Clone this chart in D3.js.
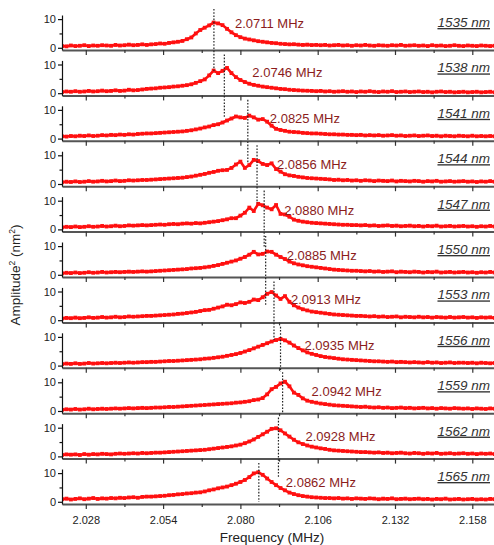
<!DOCTYPE html>
<html>
<head>
<meta charset="utf-8">
<script src="https://cdn.jsdelivr.net/npm/d3@7"></script>
<style>
  body { margin: 0; background: #fff; }
  svg { display: block; font-family: "Liberation Sans", Arial, sans-serif; }
</style>
</head>
<body>
<svg id="chart" width="494" height="545"></svg>
<script>
// Probe wavelengths (nm) and the fitted mechanical resonance for each
const wavelengths = [1535, 1538, 1541, 1544, 1547, 1550, 1553, 1556, 1559, 1562, 1565];
const peakFreqs = [2.0711, 2.0746, 2.0825, 2.0856, 2.0880, 2.0885, 2.0913, 2.0935, 2.0942, 2.0928, 2.0862];

// Frequency sweep: samples start at 2.020 MHz, one every 1.5 kHz
const sweepStart = 2.020;
const sweepStep = 0.0015;

// Squared amplitude (nm^2) recorded at each sweep point
const amp1535 = [0.6,0.5,0.8,0.6,0.7,0.9,0.6,0.8,0.7,0.9,0.8,0.7,1.0,0.8,0.9,1.1,0.9,1.0,1.2,1.0,
  1.2,1.3,1.5,1.4,1.7,1.9,2.1,2.4,3.0,3.6, 5.0,6.2,7.0,7.8,8.8,8.5,7.9,6.6,5.4,4.4,
  3.7,3.2,2.9,2.6,2.3,2.1,1.9,1.7,1.6,1.4, 1.3,1.2,1.25,1.1,1.0,1.1,0.95,1.0,0.9,1.0,
  0.8,0.9,1.0,0.8,0.9,0.7,0.9,0.8,1.0,0.8, 0.7,0.9,0.8,0.7,0.9,0.8,1.0,0.7,0.8,0.9,
  0.7,0.8,0.6,0.9,0.7,0.8,0.6,0.7,0.9,0.7, 0.6,0.8,0.7,0.6,0.8,0.7,0.6,0.7];
const amp1538 = [0.4,0.6,0.5,0.7,0.5,0.6,0.8,0.6,0.7,0.9,0.7,0.8,1.0,0.8,0.9,1.2,1.0,1.1,1.3,1.5,
  1.6,1.7,1.9,2.0,2.1,2.3,2.4,2.6,2.8,3.1, 3.6,4.2,4.8,6.2,7.9,7.0,7.8,8.8,7.0,5.6,
  4.6,3.9,3.3,2.9,2.6,2.3,2.1,1.9,1.7,1.5, 1.4,1.2,1.1,1.0,0.9,0.85,0.8,0.7,0.8,0.6,
  0.7,0.5,0.6,0.7,0.5,0.6,0.4,0.6,0.5,0.7, 0.5,0.4,0.6,0.5,0.7,0.4,0.5,0.6,0.4,0.5,
  0.6,0.4,0.5,0.3,0.5,0.6,0.4,0.5,0.3,0.4, 0.5,0.3,0.4,0.5,0.3,0.4,0.5,0.3];
const amp1541 = [0.8,0.7,0.9,0.8,1.0,0.9,1.1,0.9,1.0,1.2,1.1,1.3,1.2,1.4,1.3,1.5,1.4,1.6,1.7,1.8,
  1.8,1.9,2.0,2.1,2.2,2.3,2.4,2.5,2.7,2.9, 3.2,3.5,3.9,4.2,4.7,5.0,5.6,6.3,7.0,7.7,
  7.4,7.2,8.0,7.4,6.6,6.8,5.9,4.5,3.4,3.0, 2.7,2.4,2.3,2.2,2.0,1.9,1.8,1.8,1.7,1.6,
  1.5,1.5,1.4,1.4,1.3,1.3,1.2,1.3,1.1,1.2, 1.1,1.2,1.0,1.1,1.2,1.0,1.1,0.9,1.0,1.1,
  0.9,1.0,1.1,0.9,1.0,0.8,1.0,0.9,0.8,1.0, 0.9,0.8,1.0,0.8,0.9,0.8,0.9,0.8];
const amp1544 = [0.6,0.8,0.7,0.9,0.7,0.8,1.0,0.8,0.9,1.1,0.9,1.0,1.2,1.0,1.1,1.3,1.2,1.3,1.4,1.4,
  1.5,1.6,1.7,1.8,1.9,2.0,2.1,2.2,2.4,2.6, 2.9,3.2,3.5,3.9,4.2,4.6,4.8,4.9,5.6,6.8,
  7.8,5.6,6.6,8.4,8.0,7.0,6.6,7.2,5.2,4.3, 3.4,3.0,2.8,2.5,2.3,2.1,2.0,1.9,1.8,1.7,
  1.6,1.4,1.5,1.3,1.4,1.2,1.3,1.1,1.3,1.2, 1.0,1.2,1.1,1.0,1.2,0.9,1.1,1.0,0.9,1.1,
  1.0,0.8,1.0,0.9,1.1,0.8,0.9,1.0,0.8,0.9, 1.0,0.8,0.9,0.7,0.9,0.8,1.0,0.8];
const amp1547 = [0.7,0.9,0.8,1.0,0.8,0.9,1.1,0.9,1.0,1.2,1.0,1.1,1.3,1.1,1.2,1.4,1.3,1.4,1.5,1.4,
  1.5,1.6,1.7,1.6,1.8,1.9,1.8,2.0,2.1,2.0, 2.2,2.1,2.3,2.5,2.7,2.9,3.2,3.5,3.9,3.9,
  4.8,5.8,7.6,6.4,8.9,8.4,7.6,7.0,8.5,5.4, 5.2,4.4,3.4,3.0,2.7,2.5,2.3,2.2,2.1,2.0,
  1.9,1.8,1.7,1.6,1.6,1.5,1.5,1.4,1.5,1.3, 1.4,1.2,1.3,1.4,1.2,1.3,1.1,1.2,1.3,1.1,
  1.2,1.0,1.2,1.1,1.3,1.0,1.1,1.2,1.0,1.1, 1.2,1.0,1.1,0.9,1.1,1.0,1.2,1.0];
const amp1550 = [0.5,0.7,0.6,0.8,0.6,0.7,0.9,0.7,0.8,1.0,0.8,0.9,1.0,0.9,1.0,1.1,1.0,1.1,1.2,1.1,
  1.2,1.3,1.4,1.5,1.6,1.7,1.8,1.9,2.0,2.2, 2.3,2.4,2.6,2.8,3.1,3.4,3.8,4.2,4.6,5.0,
  5.6,6.2,7.0,8.0,7.1,7.3,8.1,8.0,7.0,6.2, 5.5,4.6,4.0,3.6,3.3,3.0,2.8,2.6,2.4,2.2,
  2.0,1.8,1.7,1.6,1.5,1.4,1.4,1.3,1.2,1.3, 1.1,1.2,1.0,1.1,1.2,0.9,1.1,1.0,0.9,1.1,
  1.0,0.8,1.0,0.9,1.1,0.8,0.9,1.0,0.8,0.9, 1.0,0.8,0.9,0.7,0.9,0.8,1.0,0.8];
const amp1553 = [0.6,0.8,0.7,0.9,0.7,0.8,1.0,0.8,0.9,1.1,0.9,1.0,1.2,1.0,1.1,1.3,1.2,1.3,1.4,1.5,
  1.5,1.6,1.7,1.8,1.9,2.0,2.2,2.3,2.5,2.7, 2.9,3.2,3.5,3.6,4.0,4.4,4.8,5.4,5.2,5.6,
  6.2,6.0,6.4,7.2,7.0,8.0,9.2,9.8,8.6,7.4, 8.4,6.4,5.2,4.4,3.8,3.4,3.0,2.8,2.6,2.4,
  2.2,2.0,1.9,1.8,1.7,1.6,1.5,1.5,1.4,1.3, 1.4,1.2,1.3,1.1,1.2,1.3,1.0,1.2,1.1,1.0,
  1.2,1.0,1.1,0.9,1.1,1.0,0.9,1.1,0.9,1.0, 1.1,0.9,1.0,0.8,1.0,0.9,1.0,0.8];
const amp1556 = [0.5,0.7,0.6,0.8,0.6,0.7,0.9,0.7,0.8,0.9,0.8,0.9,1.0,0.9,1.0,1.1,1.0,1.1,1.2,1.2,
  1.3,1.3,1.4,1.5,1.6,1.6,1.7,1.8,1.9,2.0, 2.1,2.2,2.4,2.5,2.7,2.9,3.1,3.4,3.7,4.0,
  4.4,4.9,5.4,6.0,6.6,7.2,7.8,8.4,8.9,9.3, 8.8,8.0,7.0,6.1,5.3,4.6,4.1,3.7,3.3,3.0,
  2.8,2.6,2.4,2.2,2.1,2.0,1.9,1.8,1.7,1.6, 1.5,1.5,1.4,1.3,1.4,1.2,1.3,1.2,1.1,1.2,
  1.1,1.0,1.2,1.0,1.1,0.9,1.0,1.1,0.9,1.0, 1.0,0.9,1.0,0.8,1.0,0.9,0.8,0.9];
const amp1559 = [0.4,0.6,0.5,0.7,0.5,0.6,0.8,0.6,0.7,0.8,0.7,0.8,0.9,0.8,0.9,1.0,0.9,1.0,1.1,1.0,
  1.1,1.2,1.2,1.3,1.4,1.4,1.5,1.6,1.7,1.8, 1.9,2.0,2.1,2.2,2.3,2.4,2.5,2.6,2.7,2.9,
  3.0,3.2,3.4,3.8,4.0,4.5,5.8,7.6,8.4,9.6, 10.2,8.6,6.4,5.6,4.4,3.6,3.2,2.9,2.6,2.4,
  2.2,2.0,1.9,1.8,1.7,1.6,1.5,1.4,1.5,1.3, 1.2,1.3,1.1,1.2,1.0,1.1,1.2,1.0,1.1,0.9,
  1.0,1.1,0.9,1.0,0.8,1.0,0.9,0.8,1.0,0.9, 0.8,0.9,0.7,0.9,0.8,0.7,0.9,0.8];
const amp1562 = [0.5,0.7,0.6,0.7,0.5,0.8,0.6,0.8,0.7,0.9,0.8,0.7,0.9,1.0,0.9,1.0,1.1,1.0,1.2,1.1,
  1.2,1.3,1.3,1.4,1.5,1.6,1.7,1.8,1.9,2.0, 2.1,2.2,2.3,2.5,2.7,2.9,3.1,3.3,3.5,3.8,
  4.1,4.6,5.2,5.9,6.8,7.7,8.6,9.6,9.8,9.1, 8.0,6.9,5.8,4.9,4.3,3.8,3.4,3.1,2.8,2.6,
  2.3,2.1,2.0,1.9,1.8,1.7,1.6,1.5,1.5,1.4, 1.3,1.4,1.2,1.3,1.1,1.2,1.3,1.1,1.0,1.2,
  1.1,0.9,1.1,1.0,1.2,0.9,1.0,1.1,0.9,1.0, 1.1,0.9,1.0,0.8,1.0,0.9,1.0,0.8];
const amp1565 = [0.9,1.1,0.8,1.0,1.2,0.9,1.1,1.3,1.0,1.2,1.1,1.3,1.2,1.4,1.3,1.5,1.6,1.4,1.7,1.8,
  1.8,1.9,2.0,2.1,2.3,2.4,2.6,2.7,2.9,3.0, 3.2,3.3,3.6,4.0,4.3,4.7,5.0,5.3,5.8,6.3,
  6.9,7.6,8.6,9.9,10.3,9.4,8.1,6.9,5.8,4.8, 4.0,3.2,2.7,2.3,2.0,1.8,1.6,1.5,1.4,1.3,
  1.3,1.2,1.3,1.1,1.2,1.0,1.2,1.1,1.0,1.2, 1.1,0.9,1.1,1.0,1.2,0.9,1.0,1.1,0.9,1.0,
  1.1,0.9,1.0,0.8,1.0,0.9,1.1,0.8,0.9,1.0, 0.8,0.9,1.0,0.8,0.9,0.8,1.0,0.9];

const amplitudes = [amp1535, amp1538, amp1541, amp1544, amp1547, amp1550,
                    amp1553, amp1556, amp1559, amp1562, amp1565];

const xTicks = [2.028, 2.054, 2.080, 2.106, 2.132, 2.158];
const xMinorTicks = [2.041, 2.067, 2.093, 2.119, 2.145];
const yTicks = [0, 10];
const yMinorTicks = [5];

// ---- layout ----
const W = 494, H = 545;
const plotLeft = 62, plotRight = 494;
const panelH = 35, firstAxisY = 50, panelStep = 45.4;
// frequency-label nudges (px right of the marker line, px above the axis)
const tagDx = [21, 28, 22, 20, 20, 21, 17, 24, 29, 27, 27];
const tagRise = [22, 18, 18, 17, 17, 17.5, 18, 17.5, 17.5, 18, 17.5];
// how far each dotted marker reaches below its own panel axis
const guideDrop = [21, 22, 22, 17, 16, 28, 17.5, 4, 0, 19, -2];

const svg = d3.select('#chart');
const x = d3.scaleLinear().domain([2.020, 2.1653]).range([plotLeft, plotRight]);
const y = d3.scaleLinear().domain([-0.77, 11.43]).range([panelH, 0]);

svg.append('defs').append('clipPath').attr('id', 'plotClip')
  .append('rect').attr('x', plotLeft).attr('y', -10)
  .attr('width', plotRight - plotLeft).attr('height', panelH + 12);

const line = d3.line()
  .x((d, i) => x(sweepStart + i * sweepStep))
  .y(d => y(d));

const last = wavelengths.length - 1;

wavelengths.forEach((wl, k) => {
  const axisY = firstAxisY + k * panelStep;
  const g = svg.append('g').attr('transform', `translate(0,${axisY - panelH})`);
  const vals = amplitudes[k];

  // measured spectrum: joined square markers
  const curve = g.append('g').attr('clip-path', 'url(#plotClip)');
  curve.append('path')
    .datum(vals)
    .attr('d', line)
    .attr('fill', 'none')
    .attr('stroke', '#ff1010')
    .attr('stroke-width', 2.6)
    .attr('stroke-linejoin', 'round');
  curve.selectAll('rect.pt').data(vals).join('rect')
    .attr('class', 'pt')
    .attr('x', (d, i) => x(sweepStart + i * sweepStep) - 1.9)
    .attr('y', d => y(d) - 1.9)
    .attr('width', 3.8).attr('height', 3.8)
    .attr('fill', '#ff1010');

  // bottom axis (labels on the lowest panel only)
  const xAxis = d3.axisBottom(x).tickValues(xTicks).tickSize(5).tickSizeOuter(0)
    .tickFormat(k === last ? d3.format('.3f') : () => '');
  const xa = g.append('g').attr('transform', `translate(0,${panelH})`).call(xAxis);
  xa.select('.domain').attr('stroke', '#555').attr('stroke-width', 2);
  xa.selectAll('.tick line').attr('stroke', '#333').attr('stroke-width', 1.2);
  xa.selectAll('.tick text').attr('font-size', 11).attr('fill', '#222').attr('dy', '1.05em');
  const xm = g.append('g').attr('transform', `translate(0,${panelH})`)
    .call(d3.axisBottom(x).tickValues(xMinorTicks).tickSize(3).tickSizeOuter(0).tickFormat(() => ''));
  xm.select('.domain').remove();
  xm.selectAll('.tick line').attr('stroke', '#333').attr('stroke-width', 1.2);

  // left axis
  const ya = g.append('g').attr('transform', `translate(${plotLeft},0)`)
    .call(d3.axisLeft(y).tickValues(yTicks).tickSize(4).tickSizeOuter(0));
  ya.select('.domain').attr('stroke', '#111').attr('stroke-width', 1.2);
  ya.selectAll('.tick line').attr('stroke', '#111').attr('stroke-width', 1.2);
  ya.selectAll('.tick text').attr('font-size', 11).attr('fill', '#222').attr('x', -6);
  const ym = g.append('g').attr('transform', `translate(${plotLeft},0)`)
    .call(d3.axisLeft(y).tickValues(yMinorTicks).tickSize(2.5).tickSizeOuter(0).tickFormat(() => ''));
  ym.select('.domain').remove();
  ym.selectAll('.tick line').attr('stroke', '#111').attr('stroke-width', 1.2);

  // wavelength tag
  svg.append('text')
    .attr('x', 490).attr('y', axisY - 23)
    .attr('text-anchor', 'end')
    .attr('font-size', 13.5).attr('font-style', 'italic')
    .attr('text-decoration', 'underline')
    .attr('fill', '#333')
    .text(`${wl} nm`);

  // resonance frequency tag
  svg.append('text')
    .attr('x', x(peakFreqs[k]) + tagDx[k]).attr('y', axisY - tagRise[k])
    .attr('font-size', 13).attr('fill', '#8b1c1c')
    .text(`${peakFreqs[k].toFixed(4)} MHz`);
});

// dotted markers at each resonance
wavelengths.forEach((wl, k) => {
  const axisY = firstAxisY + k * panelStep;
  svg.append('line')
    .attr('x1', x(peakFreqs[k])).attr('x2', x(peakFreqs[k]))
    .attr('y1', axisY - 41).attr('y2', axisY + guideDrop[k])
    .attr('stroke', '#222').attr('stroke-width', 1.2)
    .attr('stroke-dasharray', '1.6,1.6');
});

// axis titles
svg.append('text')
  .attr('x', 272).attr('y', 542)
  .attr('text-anchor', 'middle').attr('font-size', 13.5).attr('fill', '#222')
  .text('Frequency (MHz)');

const yt = svg.append('text')
  .attr('transform', 'translate(20,275) rotate(-90)')
  .attr('text-anchor', 'middle').attr('font-size', 13.5).attr('fill', '#222');
yt.append('tspan').text('Amplitude');
yt.append('tspan').attr('dy', -5).attr('font-size', 8.5).text('2');
yt.append('tspan').attr('dy', 5).text(' (nm');
yt.append('tspan').attr('dy', -5).attr('font-size', 8.5).text('2');
yt.append('tspan').attr('dy', 5).text(')');
</script>
</body>
</html>
